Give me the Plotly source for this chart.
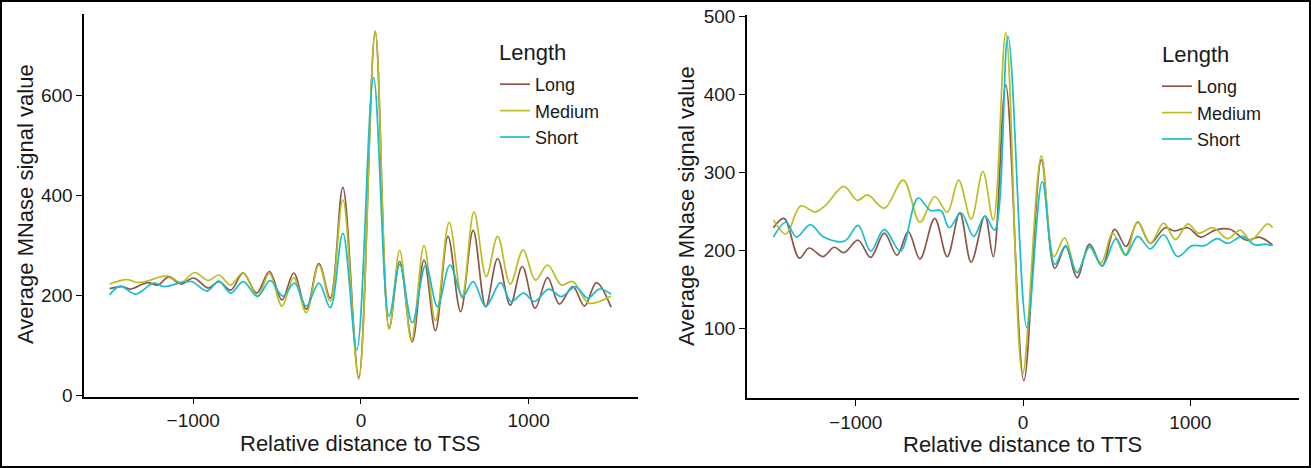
import plotly.graph_objects as go

# ---------------- TSS profile (left panel) ----------------
tss_long_x = [-1499, -1424, -1373, -1273, -1211, -1148, -1073, -997, -910, -847, -777, -702, -622, -546,
              -471, -401, -326, -251, -183, -108, -13, 85, 168, 231, 306, 376, 444, 519, 594, 669, 744,
              815, 890, 962, 1038, 1113, 1183, 1263, 1333, 1404, 1491]
tss_long_y = [214, 218, 213, 226, 221, 237, 223, 235, 215, 228, 211, 245, 205, 248,
              191, 245, 173, 264, 195, 416, 37, 726, 135, 268, 108, 271, 130, 318, 168, 330, 178,
              274, 181, 258, 175, 236, 183, 218, 179, 226, 177]

tss_medium_x = [-1499, -1398, -1323, -1148, -1073, -992, -910, -847, -777, -702, -617, -546, -471, -401,
                -326, -251, -183, -108, -13, 85, 168, 231, 301, 376, 444, 526, 602, 674, 747, 815, 890,
                967, 1040, 1113, 1195, 1263, 1358, 1491]
tss_medium_y = [223, 232, 226, 239, 226, 246, 230, 241, 221, 246, 199, 244, 179, 236,
                166, 261, 189, 391, 33, 728, 133, 290, 110, 300, 150, 346, 195, 367, 238, 318, 223,
                291, 231, 261, 221, 228, 185, 199]

tss_short_x = [-1499, -1436, -1343, -1236, -1173, -1073, -1010, -917, -847, -777, -702, -617, -541, -466,
               -396, -326, -251, -183, -108, -25, 75, 168, 231, 306, 386, 456, 531, 607, 669, 744, 832,
               895, 970, 1033, 1120, 1195, 1278, 1353, 1421, 1491]
tss_short_y = [201, 219, 203, 225, 218, 226, 228, 209, 229, 205, 228, 198, 230, 199,
               225, 179, 225, 176, 324, 92, 635, 159, 262, 146, 261, 178, 261, 198, 228, 178, 226,
               188, 205, 188, 213, 198, 218, 195, 213, 203]

# ---------------- TTS profile (right panel) ----------------
tts_long_x = [-1492, -1429, -1337, -1279, -1196, -1129, -1071, -986, -911, -829, -753, -686, -616, -528,
              -453, -378, -310, -228, -178, -103, 5, 110, 190, 255, 323, 398, 473, 548, 616, 686, 761,
              849, 906, 986, 1061, 1149, 1237, 1337, 1412, 1492]
tts_long_y = [229, 241, 190, 203, 192, 204, 197, 213, 191, 222, 194, 224, 189, 241,
              192, 248, 185, 244, 192, 412, 33, 316, 177, 205, 165, 208, 180, 227, 205, 236, 209,
              229, 225, 229, 217, 226, 227, 213, 217, 207]

tts_medium_x = [-1492, -1417, -1329, -1242, -1179, -1071, -991, -929, -829, -716, -616, -528, -453, -385,
                -310, -240, -178, -103, -3, 110, 185, 248, 323, 398, 466, 536, 611, 686, 761, 841, 911,
                986, 1049, 1136, 1224, 1299, 1362, 1462, 1492]
tts_medium_y = [239, 221, 257, 249, 258, 282, 264, 271, 254, 290, 236, 269, 249, 290,
                240, 301, 239, 479, 41, 321, 192, 216, 172, 204, 184, 222, 194, 237, 209, 235, 214,
                234, 222, 229, 215, 226, 213, 234, 229]

tts_short_x = [-1492, -1417, -1354, -1272, -1191, -1066, -986, -911, -829, -733, -628, -553, -491, -441,
               -370, -295, -228, -170, -90, 23, 115, 190, 255, 323, 398, 473, 556, 616, 686, 761, 841,
               924, 1011, 1086, 1161, 1224, 1312, 1387, 1449, 1492]
tts_short_y = [217, 236, 217, 233, 217, 212, 232, 199, 227, 199, 267, 251, 251, 229,
               248, 218, 244, 226, 474, 101, 288, 182, 206, 171, 205, 180, 215, 194, 218, 202, 220,
               192, 206, 206, 215, 209, 218, 207, 208, 206]

series_names = ["Long", "Medium", "Short"]
series_colors = ["#8c564b", "#bcbd22", "#17becf"]

x_ticks = [-1000, 0, 1000]
tss_y_ticks = [0, 200, 400, 600]
tts_y_ticks = [100, 200, 300, 400, 500]

FONT = "Liberation Sans, Arial, Helvetica, sans-serif"
INK = "#1a1a1a"

fig = go.Figure()

tss_data = [(tss_long_x, tss_long_y), (tss_medium_x, tss_medium_y), (tss_short_x, tss_short_y)]
tts_data = [(tts_long_x, tts_long_y), (tts_medium_x, tts_medium_y), (tts_short_x, tts_short_y)]

for (xs, ys), name, color in zip(tss_data, series_names, series_colors):
    fig.add_trace(go.Scatter(
        x=xs, y=ys, name=name, mode="lines",
        line=dict(color=color, width=1.7, shape="spline", smoothing=1.0),
        xaxis="x", yaxis="y", legend="legend",
    ))

for (xs, ys), name, color in zip(tts_data, series_names, series_colors):
    fig.add_trace(go.Scatter(
        x=xs, y=ys, name=name, mode="lines",
        line=dict(color=color, width=1.7, shape="spline", smoothing=1.0),
        xaxis="x2", yaxis="y2", legend="legend2",
    ))

W, H = 1311, 468

axis_common = dict(
    showline=True, linecolor="black", linewidth=1.5,
    ticks="outside", ticklen=6, tickwidth=1.3, tickcolor="black",
    showgrid=False, zeroline=False,
    tickfont=dict(family=FONT, size=19, color=INK),
    automargin=False,
)

legend_common = dict(
    bgcolor="rgba(0,0,0,0)",
    font=dict(family=FONT, size=18, color=INK),
    xanchor="left", yanchor="top",
    itemwidth=30,
    tracegroupgap=0,
)

fig.update_layout(
    width=W, height=H,
    margin=dict(l=0, r=0, t=0, b=0),
    paper_bgcolor="white", plot_bgcolor="white",
    template="none",
    font=dict(family=FONT, color=INK),
    xaxis=dict(domain=[84.2 / W, 637.7 / W], range=[-1650, 1650], tickvals=x_ticks,
               anchor="y", **axis_common),
    yaxis=dict(domain=[1 - 396.7 / H, 1 - 13.5 / H], range=[-1.75, 762.75], tickvals=tss_y_ticks,
               anchor="x", **axis_common),
    xaxis2=dict(domain=[747 / W, 1299 / W], range=[-1650, 1650], tickvals=x_ticks,
                anchor="y2", **axis_common),
    yaxis2=dict(domain=[1 - 398.3 / H, 1 - 15 / H], range=[10.5, 501.5], tickvals=tts_y_ticks,
                anchor="x2", **axis_common),
    legend=dict(x=495 / W, y=1 - 66 / H, **legend_common),
    legend2=dict(x=1157 / W, y=1 - 68 / H, **legend_common),
    showlegend=True,
)

# legend headings
head_font = dict(family=FONT, size=22, color=INK)
fig.add_annotation(text="Length", x=496.5 / W, y=1 - 52 / H, xref="paper", yref="paper",
                   showarrow=False, font=head_font, xanchor="left", yanchor="middle")
fig.add_annotation(text="Length", x=1160 / W, y=1 - 54 / H, xref="paper", yref="paper",
                   showarrow=False, font=head_font, xanchor="left", yanchor="middle")

# axis titles
title_font = dict(family=FONT, size=22, color=INK)
fig.add_annotation(text="Relative distance to TSS", x=360.5 / W, y=1 - 443.5 / H,
                   xref="paper", yref="paper", showarrow=False, font=title_font,
                   xanchor="center", yanchor="middle")
fig.add_annotation(text="Relative distance to TTS", x=1022.7 / W, y=1 - 444.5 / H,
                   xref="paper", yref="paper", showarrow=False, font=title_font,
                   xanchor="center", yanchor="middle")
fig.add_annotation(text="Average MNase signal value", x=25 / W, y=1 - 204 / H,
                   xref="paper", yref="paper", showarrow=False, font=title_font, textangle=-90,
                   xanchor="center", yanchor="middle")
fig.add_annotation(text="Average MNase signal value", x=686 / W, y=1 - 206 / H,
                   xref="paper", yref="paper", showarrow=False, font=title_font, textangle=-90,
                   xanchor="center", yanchor="middle")

# outer frame around the figure
fig.add_shape(type="rect", xref="paper", yref="paper", x0=0, y0=0, x1=1, y1=1,
              line=dict(color="black", width=4), fillcolor="rgba(0,0,0,0)", layer="above")

fig.write_html("out.html")
